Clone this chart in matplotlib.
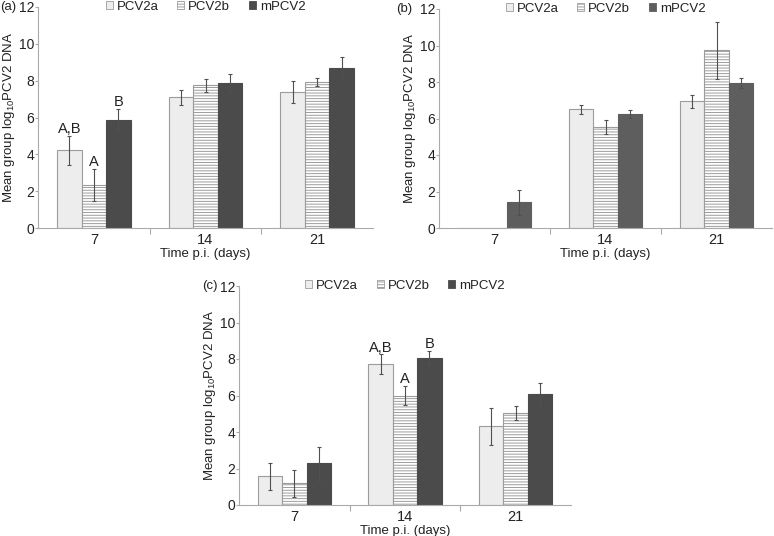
import numpy as np
import matplotlib
matplotlib.use("Agg")
import matplotlib.pyplot as plt
from matplotlib.patches import Patch

plt.rcParams['font.family'] = ['Liberation Sans', 'DejaVu Sans']
plt.rcParams['hatch.linewidth'] = 0.7

days = ['7', '14', '21']
series = ['PCV2a', 'PCV2b', 'mPCV2']

# Panel (a)
a_pcv2a = [4.22, 7.10, 7.37]
a_pcv2b = [2.33, 7.75, 7.92]
a_mpcv2 = [5.87, 7.88, 8.71]
a_err_pcv2a = [0.78, 0.41, 0.60]
a_err_pcv2b = [0.86, 0.36, 0.20]
a_err_mpcv2 = [0.61, 0.50, 0.55]
# (day index, series index): letter
a_letters = {(0, 0): 'A,B', (0, 1): 'A', (0, 2): 'B'}

# Panel (b)
b_pcv2a = [0.0, 6.50, 6.95]
b_pcv2b = [0.0, 5.53, 9.74]
b_mpcv2 = [1.40, 6.24, 7.95]
b_err_pcv2a = [0.0, 0.25, 0.35]
b_err_pcv2b = [0.0, 0.38, 1.56]
b_err_mpcv2 = [0.68, 0.23, 0.27]
b_letters = {}

# Panel (c)
c_pcv2a = [1.57, 7.73, 4.31]
c_pcv2b = [1.19, 6.00, 5.03]
c_mpcv2 = [2.29, 8.08, 6.06]
c_err_pcv2a = [0.74, 0.53, 1.00]
c_err_pcv2b = [0.75, 0.53, 0.37]
c_err_mpcv2 = [0.90, 0.38, 0.62]
c_letters = {(1, 0): 'A,B', (1, 1): 'A', (1, 2): 'B'}

W, H = 774, 536
fig = plt.figure(figsize=(W / 100, H / 100), dpi=100)

def px_axes(x0, x1, ytop, ybot):
    return fig.add_axes([x0 / W, (H - ybot) / H, (x1 - x0) / W, (ybot - ytop) / H])

txt = '#222222'
axc = '#aaaaaa'
edge_light = '#9c9c9c'

def draw_panel(ax, vals, errs, letters, dark):
    x = np.arange(len(days))
    bw = 0.22
    styles = [
        dict(color='#ededed', edgecolor=edge_light, linewidth=0.8),
        dict(color='white', edgecolor=edge_light, hatch='------', linewidth=0.8),
        dict(color=dark, edgecolor=dark, linewidth=0.8),
    ]
    for i, (v, e, st) in enumerate(zip(vals, errs, styles)):
        xs = x + (i - 1) * bw
        ax.bar(xs, v, bw, label=series[i], zorder=2, **st)
        v = np.asarray(v); e = np.asarray(e)
        m = e > 0
        ax.errorbar(xs[m], v[m], yerr=e[m], fmt='none', ecolor='#505050',
                    elinewidth=0.8, capsize=1.3, capthick=0.8, zorder=3)
    for (ci, si), lab in letters.items():
        xv = ci + (si - 1) * bw
        yv = vals[si][ci] + errs[si][ci] + 0.15
        ax.text(xv, yv, lab, ha='center', va='baseline', fontsize=10.5, color=txt, zorder=4)

    ax.set_xlim(-0.5, 2.5)
    ax.set_ylim(0, 12)
    ax.set_yticks(range(0, 13, 2))
    ax.set_xticks(x)
    ax.set_xticklabels(days)
    ax.set_xticks([0.5, 1.5], minor=True)
    ax.tick_params(axis='x', which='major', length=0, pad=3.5, labelsize=10.5, labelcolor=txt)
    ax.tick_params(axis='x', which='minor', length=4, color=axc, width=0.8)
    ax.tick_params(axis='y', length=2, color=axc, width=0.8, pad=0.8, labelsize=10, labelcolor=txt)
    for s in ['top', 'right']:
        ax.spines[s].set_visible(False)
    for s in ['left', 'bottom']:
        ax.spines[s].set_color(axc)
        ax.spines[s].set_linewidth(0.8)
    ax.set_xlabel('Time p.i. (days)', fontsize=9.5, color=txt, labelpad=0.5)
    ax.set_ylabel(r'Mean group log$_{\mathregular{10}}$PCV2 DNA', fontsize=9.5, color=txt, labelpad=1.5)

    handles = [Patch(facecolor='#ededed', edgecolor=edge_light, linewidth=0.6),
               Patch(facecolor='white', edgecolor=edge_light, hatch='------', linewidth=0.6),
               Patch(facecolor=dark, edgecolor=dark, linewidth=0.6)]
    leg = ax.legend(handles, series, loc='center', bbox_to_anchor=(0.5, 1.0), ncol=3,
                    frameon=False, fontsize=9.5, handlelength=0.55, handleheight=0.55,
                    handletextpad=0.3, columnspacing=1.4, borderaxespad=0)
    for t in leg.get_texts():
        t.set_color(txt)

axa = px_axes(38, 373, 7, 228)
draw_panel(axa, [a_pcv2a, a_pcv2b, a_mpcv2], [a_err_pcv2a, a_err_pcv2b, a_err_mpcv2],
           a_letters, '#4b4b4b')
axb = px_axes(439, 772, 9, 228)
draw_panel(axb, [b_pcv2a, b_pcv2b, b_mpcv2], [b_err_pcv2a, b_err_pcv2b, b_err_mpcv2],
           b_letters, '#5e5e5e')
axc_ = px_axes(239, 571, 286, 505)
draw_panel(axc_, [c_pcv2a, c_pcv2b, c_mpcv2], [c_err_pcv2a, c_err_pcv2b, c_err_mpcv2],
           c_letters, '#4b4b4b')

fig.text(0 / W, 1 - 7 / H, '(a)', ha='left', va='center', fontsize=9.5, color=txt)
fig.text(396 / W, 1 - 9 / H, '(b)', ha='left', va='center', fontsize=9.5, color=txt)
fig.text(202 / W, 1 - 286 / H, '(c)', ha='left', va='center', fontsize=9.5, color=txt)

fig.savefig('out.png', dpi=100, facecolor='white')
